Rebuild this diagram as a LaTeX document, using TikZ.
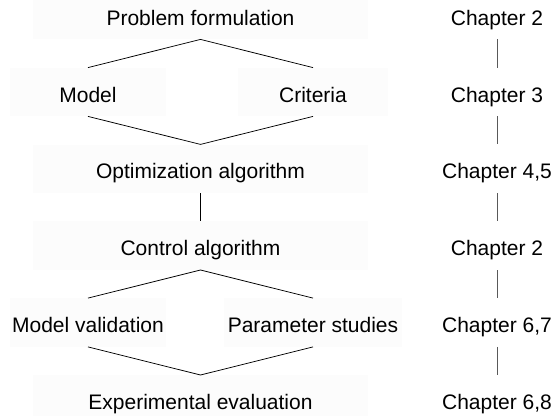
\documentclass[tikz,border=0pt]{standalone}
\usepackage{fontspec}
\setmainfont{Liberation Sans}
\begin{document}
\begin{tikzpicture}[x=1pt,y=-1pt,
  every node/.style={font=\fontsize{21}{25}\selectfont, inner sep=0pt,
    minimum height=48.4pt, text height=25pt, text depth=5pt},
  stage/.style={fill=black!1},
  chapter/.style={minimum width=112pt},
  link/.style={draw=black, line width=0.75pt},
  chain/.style={draw=black!65, line width=0.75pt}]
\useasboundingbox (0,0) rectangle (553,415);

% design stages
\node[stage, minimum width=335pt] (pf)    at (200.5,15)    {Problem formulation};
\node[stage, minimum width=156pt] (model) at (88,92)       {Model};
\node[stage, minimum width=150pt] (crit)  at (313,92)      {Criteria};
\node[stage, minimum width=335pt] (opt)   at (200.5,168.8) {Optimization algorithm};
\node[stage, minimum width=335pt] (ctrl)  at (200.5,245.6) {Control algorithm};
\node[stage, minimum width=156pt] (mval)  at (88,322.5)    {Model validation};
\node[stage, minimum width=178pt] (pstud) at (313,322.5)   {Parameter studies};
\node[stage, minimum width=335pt] (exp)   at (200.5,399.4) {Experimental evaluation};

\draw[link] (model.north) -- (pf.south) -- (crit.north);
\draw[link] (model.south) -- (opt.north) -- (crit.south);
\draw[link] (opt.south) -- (ctrl.north);
\draw[link] (mval.north) -- (ctrl.south) -- (pstud.north);
\draw[link] (mval.south) -- (exp.north) -- (pstud.south);

% chapter references
\node[chapter] (c1) at (497,15)    {Chapter 2};
\node[chapter] (c2) at (497,92)    {Chapter 3};
\node[chapter] (c3) at (497,168.8) {Chapter 4,5};
\node[chapter] (c4) at (497,245.6) {Chapter 2};
\node[chapter] (c5) at (497,322.5) {Chapter 6,7};
\node[chapter] (c6) at (497,399.4) {Chapter 6,8};

\draw[chain] (c1.south) -- (c2.north);
\draw[chain] (c2.south) -- (c3.north);
\draw[chain] (c3.south) -- (c4.north);
\draw[chain] (c4.south) -- (c5.north);
\draw[chain] (c5.south) -- (c6.north);
\end{tikzpicture}
\end{document}
